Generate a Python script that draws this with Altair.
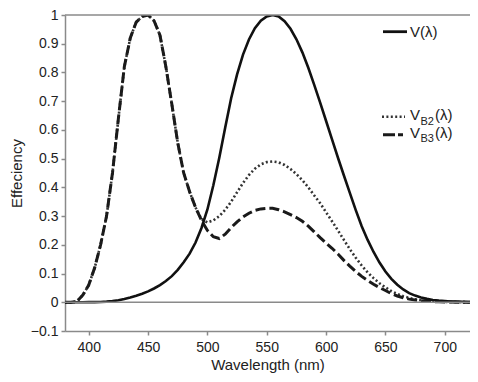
import altair as alt
import pandas as pd

wavelength = [380, 385, 390, 395, 400, 405, 410, 415, 420, 425, 430, 435, 440, 445,
              450, 455, 460, 465, 470, 475, 480, 485, 490, 495, 500, 505, 510, 515,
              520, 525, 530, 535, 540, 545, 550, 555, 560, 565, 570, 575, 580, 585,
              590, 595, 600, 605, 610, 615, 620, 625, 630, 635, 640, 645, 650, 655,
              660, 665, 670, 675, 680, 685, 690, 695, 700, 705, 710, 715, 720, 725, 730]

v_photopic = [0.00004, 0.00006, 0.00012, 0.00022, 0.0004, 0.00064, 0.00121, 0.00218,
              0.004, 0.0073, 0.0116, 0.01684, 0.023, 0.0298, 0.038, 0.048, 0.06, 0.0739,
              0.091, 0.1126, 0.139, 0.1693, 0.208, 0.2586, 0.323, 0.4073, 0.503, 0.6082,
              0.71, 0.7932, 0.862, 0.9149, 0.954, 0.9803, 0.995, 1.0, 0.995, 0.9786,
              0.952, 0.9154, 0.87, 0.8163, 0.757, 0.6949, 0.631, 0.5668, 0.503, 0.4412,
              0.381, 0.321, 0.265, 0.217, 0.175, 0.1382, 0.107, 0.0816, 0.061, 0.0446,
              0.032, 0.0232, 0.017, 0.0119, 0.0082, 0.0057, 0.0041, 0.0029, 0.0021,
              0.0015, 0.001, 0.0007, 0.0005]

v_b2 = [0.0, 0.0, 0.003, 0.025, 0.06, 0.12, 0.2, 0.3, 0.45, 0.64, 0.82, 0.92, 0.975,
        0.995, 1.0, 0.98, 0.93, 0.82, 0.69, 0.555, 0.45, 0.385, 0.33, 0.29, 0.278,
        0.285, 0.3, 0.322, 0.35, 0.383, 0.415, 0.443, 0.465, 0.48, 0.488, 0.49, 0.487,
        0.478, 0.464, 0.446, 0.425, 0.4, 0.372, 0.345, 0.313, 0.282, 0.25, 0.217,
        0.185, 0.155, 0.128, 0.104, 0.084, 0.066, 0.052, 0.039, 0.029, 0.021, 0.015,
        0.01, 0.007, 0.005, 0.003, 0.002, 0.0015, 0.001, 0.0008, 0.0005, 0.0003,
        0.0002, 0.0001]

v_b3 = [0.0, 0.0, 0.003, 0.025, 0.06, 0.12, 0.2, 0.3, 0.45, 0.64, 0.82, 0.92, 0.975,
        0.995, 1.0, 0.98, 0.93, 0.82, 0.69, 0.555, 0.45, 0.385, 0.33, 0.285, 0.25,
        0.228, 0.222, 0.237, 0.26, 0.28, 0.297, 0.31, 0.32, 0.325, 0.327, 0.327,
        0.322, 0.315, 0.305, 0.295, 0.282, 0.265, 0.245, 0.225, 0.206, 0.188, 0.168,
        0.146, 0.126, 0.107, 0.09, 0.076, 0.063, 0.051, 0.041, 0.03, 0.022, 0.016,
        0.011, 0.008, 0.005, 0.0035, 0.0025, 0.0015, 0.001, 0.0008, 0.0005, 0.0004,
        0.0003, 0.0002, 0.0001]

x_ticks = [400, 450, 500, 550, 600, 650, 700]
y_ticks = [-0.1, 0, 0.1, 0.2, 0.3, 0.4, 0.5, 0.6, 0.7, 0.8, 0.9, 1.0]

df = pd.DataFrame({"wl": wavelength, "V": v_photopic, "B2": v_b2, "B3": v_b3})
df = df[df["wl"] <= 725]

FONT = "Liberation Sans"
W, H = 405, 316
X_MAX = 380 + W / 1.1868

x_scale = alt.Scale(domain=[380, X_MAX], nice=False, zero=False)
x_axis = alt.Axis(values=x_ticks, title="Wavelength (nm)", format="d")
y_scale = alt.Scale(domain=[-0.1, 1.0], nice=False, zero=False)
y_axis = alt.Axis(values=y_ticks, title="Effeciency", format="~g", labelOverlap=False,
                  labelBound=False, titleX=-49, titleY=H / 2, titleBaseline="middle",
                  titleAngle=-90)

base = alt.Chart(df)

line_v = base.mark_line(color="#111111", strokeWidth=2.6, clip=True).encode(
    x=alt.X("wl:Q", scale=x_scale, axis=x_axis),
    y=alt.Y("V:Q", scale=y_scale, axis=y_axis))
line_b2 = base.mark_line(color="#333333", strokeWidth=2.6, strokeDash=[2, 2.4], clip=True).encode(
    x=alt.X("wl:Q", scale=x_scale, axis=x_axis),
    y=alt.Y("B2:Q", scale=y_scale, axis=y_axis))
line_b3 = base.mark_line(color="#1a1a1a", strokeWidth=3, strokeDash=[10, 4], clip=True).encode(
    x=alt.X("wl:Q", scale=x_scale, axis=x_axis),
    y=alt.Y("B3:Q", scale=y_scale, axis=y_axis))

zero_line = alt.Chart(pd.DataFrame({"z": [0]})).mark_rule(
    color="#8a8a8a", strokeWidth=1.5).encode(y=alt.Y("z:Q", scale=y_scale, axis=y_axis))
top_line = alt.Chart(pd.DataFrame({"z": [1.0]})).mark_rule(
    color="#8a8a8a", strokeWidth=1.5).encode(y=alt.Y("z:Q", scale=y_scale, axis=y_axis))

# Legend (drawn manually to allow subscripts)
leg = alt.Chart(pd.DataFrame({"d": [0]}))
leg_v = leg.mark_rule(color="#111111", strokeWidth=2.8).encode(
    x=alt.value(318), x2=alt.value(342), y=alt.value(16.7))
leg_b2 = leg.mark_rule(color="#333333", strokeWidth=2.6, strokeDash=[2, 2.4]).encode(
    x=alt.value(317), x2=alt.value(340), y=alt.value(101.7))
leg_b3 = leg.mark_rule(color="#1a1a1a", strokeWidth=3, strokeDash=[12, 3, 5, 3]).encode(
    x=alt.value(318), x2=alt.value(341), y=alt.value(119.7))


def txt(s, x, y, size):
    return leg.mark_text(font=FONT, fontSize=size, align="left", baseline="middle",
                         color="#222222").encode(
        x=alt.value(x), y=alt.value(y), text=alt.value(s))


legend_texts = [
    txt("V(λ)", 345, 17, 15),
    txt("V", 345, 100, 15), txt("B2", 355.5, 106.5, 11), txt("(λ)", 370, 100, 15),
    txt("V", 345, 118, 15), txt("B3", 355.5, 124, 11), txt("(λ)", 370, 118, 15),
]

chart = alt.layer(line_b2, line_b3, line_v, zero_line, top_line, leg_v, leg_b2, leg_b3,
                  *legend_texts).properties(
    width=W, height=H,
    autosize=alt.AutoSizeParams(type="none"),
    padding={"left": 57, "top": 7, "right": 0, "bottom": 42},
).configure_view(stroke=None).configure_axis(
    domainColor="#8a8a8a", domainWidth=1.5, tickColor="#8a8a8a", tickWidth=1.5,
    tickSize=4, grid=False, labelFont=FONT, labelFontSize=14, labelColor="#222222",
    titleFont=FONT, titleFontSize=15, titleColor="#222222", titleFontWeight="normal",
).configure_axisX(labelPadding=5, titlePadding=3).configure_axisY(
    labelPadding=3, labelOverlap=False, labelBound=False, labelFlush=False)

chart.save("out.html", embed_options={"renderer": "svg", "actions": False})
